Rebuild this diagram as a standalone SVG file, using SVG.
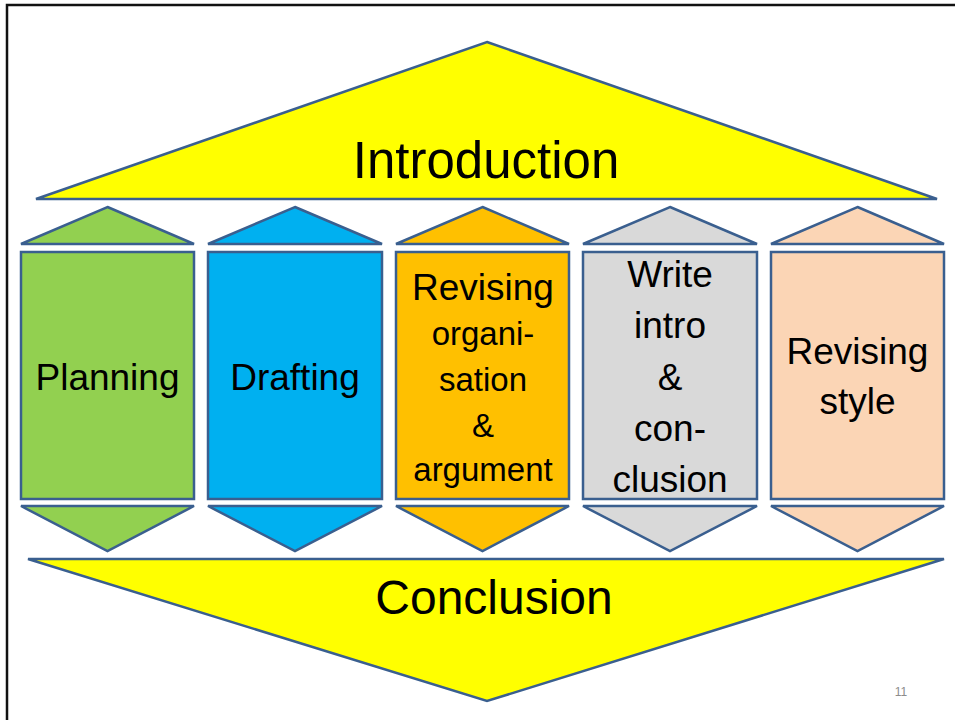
<svg xmlns="http://www.w3.org/2000/svg" width="955" height="720" viewBox="0 0 955 720">
<style>
.s{stroke:#3A5F8F;stroke-width:2.5;stroke-linejoin:miter}
.t{font-family:"Liberation Sans",Arial,sans-serif;fill:#000;text-anchor:middle}
.b{font-size:48px}
.m{font-size:37px}
.n{font-size:33px}
</style>
<rect x="0" y="0" width="955" height="720" fill="#fff"/>
<path d="M7 720 V5 H955" fill="none" stroke="#111" stroke-width="2.5"/>
<g id="introduction">
<polygon class="s" points="487,42 937,199 36,199" fill="#FFFF00"/>
<text class="t b" x="486" y="178" style="font-size:51px">Introduction</text>
</g>
<g id="conclusion">
<polygon class="s" points="28,559 944,559 487,701" fill="#FFFF00"/>
<text class="t b" x="494" y="614">Conclusion</text>
</g>
<g id="planning">
<polygon class="s" points="107.5,207 194,244 21,244" fill="#92D050"/>
<rect class="s" x="21" y="252" width="173" height="247" fill="#92D050"/>
<polygon class="s" points="21,506 194,506 107.5,551" fill="#92D050"/>
<text class="t m" x="107.5" y="390">Planning</text>
</g>
<g id="drafting">
<polygon class="s" points="295,207 382,244 208,244" fill="#00B0F0"/>
<rect class="s" x="208" y="252" width="174" height="247" fill="#00B0F0"/>
<polygon class="s" points="208,506 382,506 295,551" fill="#00B0F0"/>
<text class="t m" x="295" y="390">Drafting</text>
</g>
<g id="revising-organisation">
<polygon class="s" points="482.5,207 569,244 396,244" fill="#FFC000"/>
<rect class="s" x="396" y="252" width="173" height="247" fill="#FFC000"/>
<polygon class="s" points="396,506 569,506 482.5,551" fill="#FFC000"/>
<text class="t m" x="483" y="300">Revising</text>
<text class="t n" x="483" y="345">organi-</text>
<text class="t n" x="483" y="391">sation</text>
<text class="t n" x="483" y="437">&amp;</text>
<text class="t n" x="483" y="481">argument</text>
</g>
<g id="write-intro">
<polygon class="s" points="670,207 757,244 583,244" fill="#D9D9D9"/>
<rect class="s" x="583" y="252" width="174" height="247" fill="#D9D9D9"/>
<polygon class="s" points="583,506 757,506 670,551" fill="#D9D9D9"/>
<text class="t m" x="670" y="287">Write</text>
<text class="t m" x="670" y="338">intro</text>
<text class="t m" x="670" y="390">&amp;</text>
<text class="t m" x="670" y="441">con-</text>
<text class="t m" x="670" y="492">clusion</text>
</g>
<g id="revising-style">
<polygon class="s" points="857.5,207 944,244 771,244" fill="#FBD5B5"/>
<rect class="s" x="771" y="252" width="173" height="247" fill="#FBD5B5"/>
<polygon class="s" points="771,506 944,506 857.5,551" fill="#FBD5B5"/>
<text class="t m" x="857.5" y="364">Revising</text>
<text class="t m" x="857.5" y="414">style</text>
</g>
<g id="connectors"></g>
<text x="901" y="696" font-family="Liberation Sans,Arial,sans-serif" font-size="12" fill="#8C8C8C" text-anchor="middle">11</text>
</svg>
